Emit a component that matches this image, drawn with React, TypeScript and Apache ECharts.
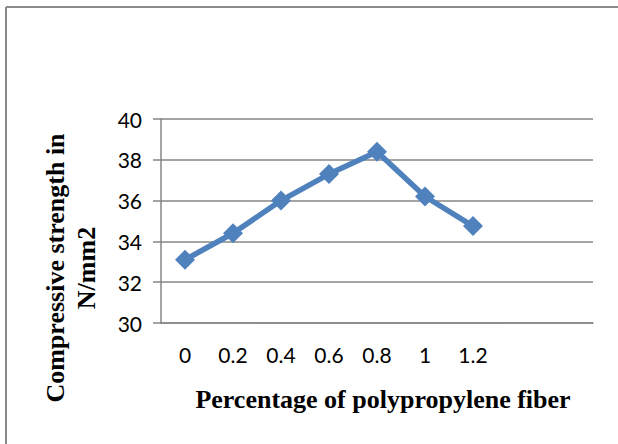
import React, { useEffect, useRef } from "react";
import * as echarts from "echarts";

const categories = ["0", "0.2", "0.4", "0.6", "0.8", "1", "1.2", "", ""];
const strengthValues = [33.1, 34.4, 36.0, 37.3, 38.4, 36.2, 34.75];
const yTitle = "Compressive strength in\nN/mm2";
const xTitle = "Percentage of polypropylene fiber";

export default function App() {
  const ref = useRef<HTMLDivElement>(null);
  useEffect(() => {
    if (!ref.current) return;
    const chart = echarts.init(ref.current, null, { renderer: "svg" });
    chart.setOption({
      animation: false,
      backgroundColor: "#ffffff",
      grid: { left: 161, right: 25, top: 119, bottom: 121, containLabel: false },
      xAxis: {
        type: "category",
        data: categories,
        boundaryGap: true,
        axisLine: { show: true, lineStyle: { color: "#868686", width: 1.5 } },
        axisTick: { show: false },
        axisLabel: {
          interval: 0,
          margin: 21,
          fontFamily: "Lato",
          fontSize: 21,
          color: "#000",
        },
      },
      yAxis: {
        type: "value",
        min: 30,
        max: 40,
        interval: 2,
        axisLine: { show: true, lineStyle: { color: "#868686", width: 1.5 } },
        axisTick: { show: true, inside: false, length: 8, lineStyle: { color: "#868686", width: 1.5 } },
        splitLine: { show: true, lineStyle: { color: "#868686", width: 1.5 } },
        axisLabel: {
          margin: 19,
          fontFamily: "Lato",
          fontSize: 21,
          color: "#000",
        },
      },
      series: [
        {
          type: "line",
          data: strengthValues,
          symbol: "diamond",
          symbolSize: 20,
          lineStyle: { color: "#4F81BD", width: 5.5 },
          itemStyle: { color: "#4F81BD" },
        },
      ],
      graphic: [
        {
          type: "line",
          shape: { x1: 6, y1: 7, x2: 618, y2: 7 },
          style: { stroke: "#8a8a8a", lineWidth: 2 },
          silent: true,
        },
        {
          type: "line",
          shape: { x1: 6, y1: 7, x2: 6, y2: 444 },
          style: { stroke: "#8a8a8a", lineWidth: 2 },
          silent: true,
        },
        {
          type: "text",
          x: 71,
          y: 268,
          rotation: Math.PI / 2,
          style: {
            text: yTitle,
            fontFamily: "Liberation Serif",
            fontWeight: "bold",
            fontSize: 26,
            lineHeight: 31,
            align: "center",
            verticalAlign: "middle",
            fill: "#000",
          },
        },
        {
          type: "text",
          x: 383,
          y: 399,
          style: {
            text: xTitle,
            fontFamily: "Liberation Serif",
            fontWeight: "bold",
            fontSize: 26,
            align: "center",
            verticalAlign: "middle",
            fill: "#000",
          },
        },
      ],
    });
    return () => chart.dispose();
  }, []);
  return (
    <div
      ref={ref}
      style={{ position: "fixed", left: 0, top: 0, width: 618, height: 444 }}
    />
  );
}
